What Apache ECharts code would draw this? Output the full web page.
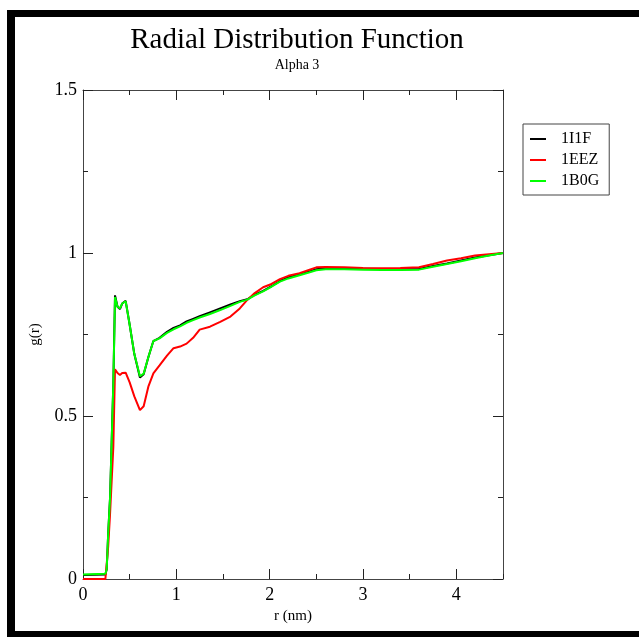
<!DOCTYPE html>
<html>
<head>
<meta charset="utf-8">
<script src="https://cdn.jsdelivr.net/npm/echarts@6/dist/echarts.min.js"></script>
<style>
html,body{margin:0;padding:0;background:#fff;}
#chart{width:639px;height:637px;}
</style>
</head>
<body>
<div id="chart"></div>
<script>
var titleText = 'Radial Distribution Function';
var subtitleText = 'Alpha 3';
var xName = 'r (nm)';
var yName = 'g(r)';
var seriesNames = ['1I1F', '1EEZ', '1B0G'];

var rValues = [0, 0.24, 0.254, 0.27, 0.29, 0.307, 0.325, 0.343, 0.37, 0.396, 0.42, 0.457, 0.5, 0.55, 0.61, 0.65, 0.7, 0.754, 0.82, 0.9, 0.97, 1.04, 1.11, 1.18, 1.25, 1.36, 1.47, 1.58, 1.68, 1.76, 1.84, 1.93, 2.02, 2.11, 2.2, 2.32, 2.42, 2.5, 2.6, 2.8, 3.0, 3.2, 3.4, 3.6, 3.75, 3.9, 4.05, 4.2, 4.35, 4.5];

var g1I1F = [0.012, 0.014, 0.03, 0.14, 0.25, 0.42, 0.6, 0.87, 0.835, 0.828, 0.845, 0.853, 0.78, 0.69, 0.618, 0.628, 0.68, 0.73, 0.74, 0.758, 0.77, 0.778, 0.79, 0.798, 0.806, 0.818, 0.83, 0.842, 0.852, 0.858, 0.872, 0.884, 0.898, 0.914, 0.925, 0.935, 0.943, 0.95, 0.953, 0.953, 0.952, 0.951, 0.95, 0.951, 0.96, 0.968, 0.977, 0.986, 0.993, 1.0];

var g1EEZ = [0, 0, 0, 0.1, 0.2, 0.3, 0.406, 0.643, 0.632, 0.626, 0.632, 0.633, 0.603, 0.56, 0.518, 0.53, 0.59, 0.631, 0.655, 0.685, 0.708, 0.713, 0.722, 0.74, 0.765, 0.774, 0.789, 0.805, 0.83, 0.856, 0.877, 0.895, 0.905, 0.92, 0.93, 0.938, 0.948, 0.956, 0.957, 0.956, 0.954, 0.953, 0.954, 0.956, 0.966, 0.977, 0.984, 0.992, 0.996, 1.0];

var g1B0G = [0.014, 0.016, 0.03, 0.14, 0.25, 0.42, 0.6, 0.865, 0.835, 0.83, 0.845, 0.852, 0.78, 0.69, 0.622, 0.63, 0.68, 0.73, 0.738, 0.755, 0.766, 0.775, 0.786, 0.794, 0.802, 0.813, 0.825, 0.838, 0.85, 0.857, 0.87, 0.882, 0.897, 0.912, 0.922, 0.932, 0.94, 0.947, 0.95, 0.95, 0.949, 0.948, 0.948, 0.949, 0.958, 0.966, 0.975, 0.984, 0.992, 1.0];

var seriesColors = ['#000000', '#ff0000', '#00ff00'];

var xTickLabels = ['0', '1', '2', '3', '4'];
var yTickLabels = ['0', '0.5', '1', '1.5'];

function zip(xs, ys) { return xs.map(function (x, i) { return [x, ys[i]]; }); }

var FONT = '"Liberation Serif", "DejaVu Serif", serif';
var axisColor = '#444';

function xAxisDef(pos, interval, len, main) {
  return {
    type: 'value', position: pos, min: 0, max: 4.5, interval: interval,
    axisLine: { show: main, onZero: false, lineStyle: { color: axisColor, width: 1 } },
    axisTick: { show: true, inside: true, length: len, lineStyle: { color: '#222', width: 1 } },
    axisLabel: {
      show: main && pos === 'bottom', showMaxLabel: false, margin: 7,
      fontFamily: FONT, fontSize: 18, color: '#000',
      formatter: function (v) { var i = xTickLabels.indexOf(String(v)); return i >= 0 ? xTickLabels[i] : ''; }
    },
    splitLine: { show: false },
    name: (main && pos === 'bottom') ? xName : '',
    nameLocation: 'middle', nameGap: 26,
    nameTextStyle: { fontFamily: FONT, fontSize: 15, color: '#000' }
  };
}

function yAxisDef(pos) {
  return {
    type: 'value', position: pos, min: 0, max: 1.5, interval: 0.5,
    axisLine: { show: true, onZero: false, lineStyle: { color: axisColor, width: 1 } },
    axisTick: { show: true, inside: true, length: 10, lineStyle: { color: '#222', width: 1 } },
    minorTick: { show: true, splitNumber: 2, length: 5, lineStyle: { color: '#222', width: 1 } },
    axisLabel: {
      show: pos === 'left', margin: 6, fontFamily: FONT, fontSize: 18, color: '#000',
      formatter: function (v) { var i = yTickLabels.indexOf(String(v)); return i >= 0 ? yTickLabels[i] : ''; }
    },
    splitLine: { show: false }, minorSplitLine: { show: false },
    name: pos === 'left' ? yName : '',
    nameLocation: 'middle', nameGap: 40, nameRotate: 90,
    nameTextStyle: { fontFamily: FONT, fontSize: 15, color: '#000' }
  };
}

var chart = echarts.init(document.getElementById('chart'), null, { renderer: 'canvas' });

var allG = [g1I1F, g1EEZ, g1B0G];

chart.setOption({
  backgroundColor: '#ffffff',
  animation: false,
  title: [
    { text: titleText, left: 292, top: 21, textAlign: 'center',
      textStyle: { fontFamily: FONT, fontSize: 29, fontWeight: 'normal', color: '#000' } },
    { text: subtitleText, left: 292, top: 53, textAlign: 'center',
      textStyle: { fontFamily: FONT, fontSize: 14, fontWeight: 'normal', color: '#000' } }
  ],
  legend: {
    orient: 'vertical', left: 523, top: 124,
    padding: [7, 10, 6, 7],
    borderColor: '#444', borderWidth: 1,
    itemWidth: 16, itemHeight: 2, itemGap: 5, icon: 'rect',
    textStyle: { fontFamily: FONT, fontSize: 16, color: '#000', padding: [0, 0, 0, 10] },
    data: seriesNames
  },
  grid: { left: 83, right: 136, top: 90, bottom: 58, containLabel: false },
  xAxis: [
    xAxisDef('bottom', 1, 10, true),
    xAxisDef('bottom', 0.5, 5, false),
    xAxisDef('top', 1, 10, true),
    xAxisDef('top', 0.5, 5, false)
  ],
  yAxis: [yAxisDef('left'), yAxisDef('right')],
  series: seriesNames.map(function (n, i) {
    return {
      name: n, type: 'line', xAxisIndex: 0, yAxisIndex: 0,
      data: zip(rValues, allG[i]), showSymbol: false, symbol: 'none',
      lineStyle: { color: seriesColors[i], width: 2 }, itemStyle: { color: seriesColors[i] },
      z: 2 + i
    };
  }),
  graphic: [
    { type: 'rect', shape: { x: 7, y: 10, width: 8, height: 627 }, style: { fill: '#000' }, z: 100 },
    { type: 'rect', shape: { x: 7, y: 10, width: 632, height: 7 }, style: { fill: '#000' }, z: 100 },
    { type: 'rect', shape: { x: 7, y: 631, width: 632, height: 6 }, style: { fill: '#000' }, z: 100 }
  ]
});
</script>
</body>
</html>
